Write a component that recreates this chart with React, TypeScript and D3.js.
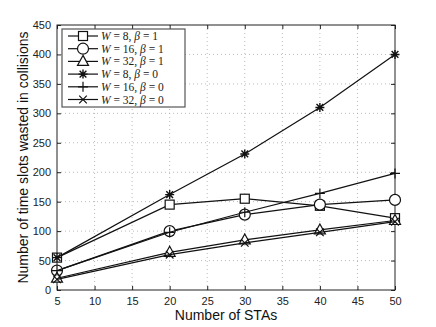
import React, { useEffect, useRef } from "react";
import * as d3 from "d3";

// x values (number of STAs)
const stas = [5, 20, 30, 40, 50];

// collisions per configuration
const w8b1 = [55, 145, 155, 143, 122];
const w16b1 = [33, 100, 128, 145, 153];
const w32b1 = [20, 64, 85, 102, 118];
const w8b0 = [55, 162, 231, 310, 400];
const w16b0 = [33, 98, 132, 164, 198];
const w32b0 = [18, 60, 80, 98, 116];

const xTicks = [5, 10, 15, 20, 25, 30, 35, 40, 45, 50];
const yTicks = [0, 50, 100, 150, 200, 250, 300, 350, 400, 450];

const seriesList = [
  { w: "8", b: "1", values: w8b1, marker: "square" },
  { w: "16", b: "1", values: w16b1, marker: "circle" },
  { w: "32", b: "1", values: w32b1, marker: "triangle" },
  { w: "8", b: "0", values: w8b0, marker: "star" },
  { w: "16", b: "0", values: w16b0, marker: "plus" },
  { w: "32", b: "0", values: w32b0, marker: "cross" },
];

const drawMarker = (g: any, type: string, cx: number, cy: number) => {
  const stroke = "#111";
  if (type === "square") {
    g.append("rect")
      .attr("x", cx - 4.5).attr("y", cy - 4.5)
      .attr("width", 9).attr("height", 9)
      .attr("fill", "white").attr("stroke", stroke).attr("stroke-width", 1.2);
  } else if (type === "circle") {
    g.append("circle")
      .attr("cx", cx).attr("cy", cy).attr("r", 5.5)
      .attr("fill", "white").attr("stroke", stroke).attr("stroke-width", 1.2);
  } else if (type === "triangle") {
    g.append("path")
      .attr("d", `M${cx},${cy - 6}L${cx + 5.5},${cy + 4}L${cx - 5.5},${cy + 4}Z`)
      .attr("fill", "white").attr("stroke", stroke).attr("stroke-width", 1.2);
  } else if (type === "star") {
    const r = 4.5;
    let d = `M${cx - r},${cy}L${cx + r},${cy}M${cx},${cy - r}L${cx},${cy + r}`;
    const k = r * 0.75;
    d += `M${cx - k},${cy - k}L${cx + k},${cy + k}M${cx - k},${cy + k}L${cx + k},${cy - k}`;
    g.append("path").attr("d", d).attr("stroke", stroke).attr("stroke-width", 1.4).attr("fill", "none");
  } else if (type === "plus") {
    const r = 5;
    g.append("path")
      .attr("d", `M${cx - r},${cy}L${cx + r},${cy}M${cx},${cy - r}L${cx},${cy + r}`)
      .attr("stroke", stroke).attr("stroke-width", 1.2).attr("fill", "none");
  } else {
    const r = 3.8;
    g.append("path")
      .attr("d", `M${cx - r},${cy - r}L${cx + r},${cy + r}M${cx - r},${cy + r}L${cx + r},${cy - r}`)
      .attr("stroke", stroke).attr("stroke-width", 1.2).attr("fill", "none");
  }
};

const App = () => {
  const ref = useRef<SVGSVGElement>(null);

  useEffect(() => {
    const svg = d3.select(ref.current);
    svg.selectAll("*").remove();

    const width = 436;
    const height = 327;
    const margin = { top: 25, left: 57, bottom: 37, right: 41 };
    const innerW = width - margin.left - margin.right;
    const innerH = height - margin.top - margin.bottom;

    const x = d3.scaleLinear().domain([5, 50]).range([margin.left, margin.left + innerW]);
    const y = d3.scaleLinear().domain([0, 450]).range([margin.top + innerH, margin.top]);

    svg.append("rect").attr("width", width).attr("height", height).attr("fill", "white");

    // dotted grid
    const grid = svg.append("g").attr("stroke", "#aaa").attr("stroke-width", 0.8).attr("stroke-dasharray", "1,3");
    xTicks.slice(1, -1).forEach((t) => {
      grid.append("line").attr("x1", x(t)).attr("x2", x(t)).attr("y1", margin.top).attr("y2", margin.top + innerH);
    });
    yTicks.slice(1, -1).forEach((t) => {
      grid.append("line").attr("x1", margin.left).attr("x2", margin.left + innerW).attr("y1", y(t)).attr("y2", y(t));
    });

    // axes with inward ticks on all sides
    const tickLen = 4;
    const axisStyle = (g: any) => {
      g.select(".domain").remove();
      g.selectAll("line").attr("stroke", "#222");
      g.selectAll("text").attr("font-family", "Liberation Sans, Arial, sans-serif").attr("font-size", 11).attr("fill", "#222");
    };
    const noText = (g: any) => g.selectAll("text").remove();
    svg.append("g")
      .attr("transform", `translate(0,${margin.top + innerH})`)
      .call(d3.axisBottom(x).tickValues(xTicks).tickSize(-tickLen).tickPadding(7))
      .call(axisStyle);
    svg.append("g")
      .attr("transform", `translate(0,${margin.top})`)
      .call(d3.axisTop(x).tickValues(xTicks).tickSize(-tickLen))
      .call(axisStyle).call(noText);
    svg.append("g")
      .attr("transform", `translate(${margin.left},0)`)
      .call(d3.axisLeft(y).tickValues(yTicks).tickSize(-tickLen).tickPadding(6))
      .call(axisStyle);
    svg.append("g")
      .attr("transform", `translate(${margin.left + innerW},0)`)
      .call(d3.axisRight(y).tickValues(yTicks).tickSize(-tickLen))
      .call(axisStyle).call(noText);

    svg.append("rect")
      .attr("x", margin.left).attr("y", margin.top)
      .attr("width", innerW).attr("height", innerH)
      .attr("fill", "none").attr("stroke", "#222").attr("stroke-width", 1);

    const line = d3.line<number>().x((d, i) => x(stas[i])).y((d) => y(d));

    seriesList.forEach((s) => {
      const g = svg.append("g");
      g.append("path")
        .attr("d", line(s.values))
        .attr("fill", "none").attr("stroke", "#111").attr("stroke-width", 1.2);
      s.values.forEach((v, i) => drawMarker(g, s.marker, x(stas[i]), y(v)));
    });

    // legend
    const lx = 62, ly = 29, lw = 123, lh = 78;
    const leg = svg.append("g");
    leg.append("rect").attr("x", lx).attr("y", ly).attr("width", lw).attr("height", lh)
      .attr("fill", "white").attr("stroke", "#555").attr("stroke-width", 1.2);
    seriesList.forEach((s, i) => {
      const cy = ly + 7 + i * 12.7;
      leg.append("line").attr("x1", lx + 6).attr("x2", lx + 36).attr("y1", cy).attr("y2", cy)
        .attr("stroke", "#111").attr("stroke-width", 1.2);
      drawMarker(leg, s.marker, lx + 21, cy);
      const t = leg.append("text").attr("x", lx + 39).attr("y", cy + 4)
        .attr("font-family", "Liberation Serif, Times New Roman, serif").attr("font-size", 11.5).attr("fill", "#222");
      t.append("tspan").attr("font-style", "italic").text("W");
      t.append("tspan").text(` = ${s.w}, `);
      t.append("tspan").attr("font-style", "italic").text("β");
      t.append("tspan").text(` = ${s.b}`);
    });

    // axis labels
    svg.append("text")
      .attr("x", margin.left + innerW / 2).attr("y", 320)
      .attr("text-anchor", "middle")
      .attr("font-family", "Liberation Sans, Arial, sans-serif").attr("font-size", 14).attr("fill", "#111")
      .text("Number of STAs");
    svg.append("text")
      .attr("transform", `translate(28,${margin.top + innerH / 2}) rotate(-90)`)
      .attr("text-anchor", "middle")
      .attr("font-family", "Liberation Sans, Arial, sans-serif").attr("font-size", 14).attr("fill", "#111")
      .text("Number of time slots wasted in collisions");
  }, []);

  return (
    <div style={{ position: "absolute", left: 0, top: 0 }}>
      <svg ref={ref} width={436} height={327} style={{ display: "block" }} />
    </div>
  );
};

export default App;
